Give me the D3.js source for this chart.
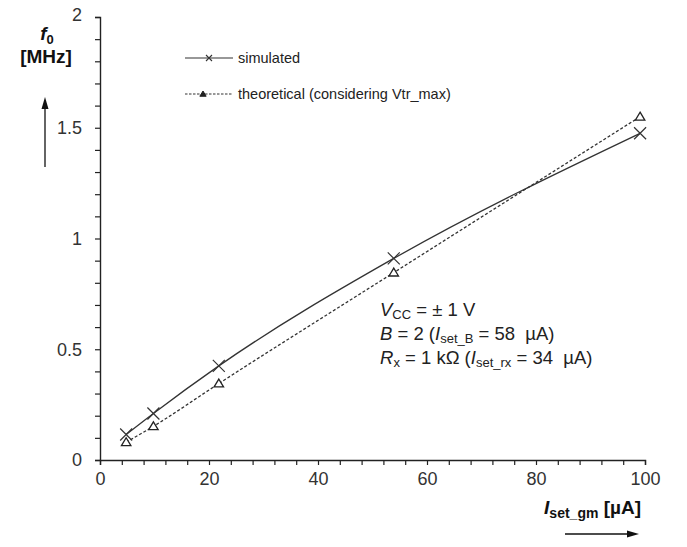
<!DOCTYPE html>
<html><head><meta charset="utf-8">
<script src="https://cdn.jsdelivr.net/npm/d3@7"></script>
<style>body{margin:0;background:#fff;} text{font-family:"Liberation Sans",Arial,sans-serif;}</style>
</head><body><svg id="c" width="687" height="547"></svg>
<script>
const iset = [4.8, 9.8, 21.8, 53.9, 99.1];
const simulated = [0.115, 0.21, 0.425, 0.91, 1.475];
const theoretical = [0.08, 0.152, 0.345, 0.846, 1.55];
const xTicks = [0, 20, 40, 60, 80, 100];
const yTicks = [0, 0.5, 1, 1.5, 2];

const svg = d3.select("#c");
const x = d3.scaleLinear().domain([0, 100]).range([100, 645]);
const y = d3.scaleLinear().domain([0, 2]).range([460, 17]);
const ink = "#222";

// axes
const xAxis = svg.append("g").attr("transform", "translate(0,460)")
  .call(d3.axisBottom(x).tickValues(d3.range(0, 101, 4)).tickSize(5).tickFormat(d => xTicks.includes(d) ? d : ""));
const yAxis = svg.append("g").attr("transform", "translate(100,0)")
  .call(d3.axisLeft(y).tickValues(d3.range(0, 2.001, 0.1).map(v => +v.toFixed(1))).tickSize(5).tickFormat(d => yTicks.includes(d) ? d : ""));
[xAxis, yAxis].forEach(g => {
  g.select(".domain").attr("stroke", ink).attr("stroke-width", 1.4);
  g.selectAll(".tick line").attr("stroke", ink).attr("stroke-width", 1.2);
  g.selectAll("text").attr("fill", "#333").style("font-size", "18px").style("font-family", "Liberation Sans, Arial, sans-serif");
});
xAxis.selectAll("text").attr("dy", "0.95em");
yAxis.selectAll("text").attr("x", -18);
yAxis.selectAll(".tick").filter(d => d === 2).select("text").attr("dy", "0.2em");

// lines
const sim = iset.map((v, i) => [v, simulated[i]]);
const th = iset.map((v, i) => [v, theoretical[i]]);
const line = d3.line().x(d => x(d[0])).y(d => y(d[1])).curve(d3.curveMonotoneX);
svg.append("path").attr("d", line(sim)).attr("fill", "none").attr("stroke", "#333").attr("stroke-width", 1.3);
svg.append("path").attr("d", line(th)).attr("fill", "none").attr("stroke", "#333").attr("stroke-width", 1.3).attr("stroke-dasharray", "3,2");

// markers
const xm = (s) => `M${-s},${-s}L${s},${s}M${-s},${s}L${s},${-s}`;
svg.selectAll(".sx").data(sim).join("path")
  .attr("transform", d => `translate(${x(d[0])},${y(d[1])})`)
  .attr("d", xm(6)).attr("stroke", "#333").attr("stroke-width", 1.2).attr("fill", "none");
const tri = (s) => `M0,${-s}L${s*1.05},${s*0.75}L${-s*1.05},${s*0.75}Z`;
svg.selectAll(".tt").data(th).join("path")
  .attr("transform", d => `translate(${x(d[0])},${y(d[1])})`)
  .attr("d", tri(4.5)).attr("stroke", "#222").attr("stroke-width", 1.3).attr("fill", "#fff");

// legend
const lg = svg.append("g");
lg.append("line").attr("x1", 185).attr("x2", 233).attr("y1", 58).attr("y2", 58).attr("stroke", "#333").attr("stroke-width", 1.2);
lg.append("path").attr("transform", "translate(209,58)").attr("d", xm(3)).attr("stroke", "#333").attr("stroke-width", 1.1);
lg.append("text").attr("x", 238).attr("y", 63).text("simulated").style("font-size", "14.5px").attr("fill", "#222");
lg.append("line").attr("x1", 185).attr("x2", 233).attr("y1", 94).attr("y2", 94).attr("stroke", "#333").attr("stroke-width", 1.2).attr("stroke-dasharray", "2.5,1.5");
lg.append("path").attr("transform", "translate(203,94)").attr("d", tri(3)).attr("stroke", "#222").attr("stroke-width", 1).attr("fill", "#222");
lg.append("text").attr("x", 238).attr("y", 99).text("theoretical (considering Vtr_max)").style("font-size", "14.5px").attr("fill", "#222");

// y label
const yl = svg.append("text").attr("x", 47).attr("y", 40).attr("text-anchor", "middle").attr("fill", "#111")
  .style("font-size", "19px").style("font-weight", "bold");
yl.append("tspan").text("f").style("font-style", "italic");
yl.append("tspan").text("0").attr("dy", 4).style("font-size", "13px");
svg.append("text").attr("x", 46).attr("y", 63).attr("text-anchor", "middle").attr("fill", "#111")
  .style("font-size", "19px").style("font-weight", "bold").text("[MHz]");
// y arrow
svg.append("line").attr("x1", 45).attr("x2", 45).attr("y1", 167).attr("y2", 106).attr("stroke", "#111").attr("stroke-width", 1.3);
svg.append("path").attr("d", "M45,97L41.5,109L48.5,109Z").attr("fill", "#111");

// x label
const xl = svg.append("text").attr("x", 641).attr("y", 514).attr("text-anchor", "end").attr("fill", "#111")
  .style("font-size", "19px").style("font-weight", "bold");
xl.append("tspan").text("I").style("font-style", "italic");
xl.append("tspan").text("set_gm").attr("dy", 4).style("font-size", "14px");
xl.append("tspan").text(" [µA]").attr("dy", -4);
// x arrow
svg.append("line").attr("x1", 565).attr("x2", 630).attr("y1", 534).attr("y2", 534).attr("stroke", "#111").attr("stroke-width", 1.3);
svg.append("path").attr("d", "M639,534L627,530.5L627,537.5Z").attr("fill", "#111");

// annotation
const ann = svg.append("g").style("font-size", "18.5px").attr("fill", "#222");
const a1 = ann.append("text").attr("x", 380).attr("y", 316);
a1.append("tspan").text("V").style("font-style", "italic");
a1.append("tspan").text("CC").attr("dy", 3).style("font-size", "13px");
a1.append("tspan").text(" = ± 1 V").attr("dy", -3);
const a2 = ann.append("text").attr("x", 380).attr("y", 340);
a2.append("tspan").text("B").style("font-style", "italic");
a2.append("tspan").text(" = 2 (");
a2.append("tspan").text("I").style("font-style", "italic");
a2.append("tspan").text("set_B").attr("dy", 3).style("font-size", "13px");
a2.append("tspan").text(" = 58\u00a0 µA)").attr("dy", -3);
const a3 = ann.append("text").attr("x", 380).attr("y", 364);
a3.append("tspan").text("R").style("font-style", "italic");
a3.append("tspan").text("x").attr("dy", 3).style("font-size", "13px");
a3.append("tspan").text(" = 1 kΩ (").attr("dy", -3);
a3.append("tspan").text("I").style("font-style", "italic");
a3.append("tspan").text("set_rx").attr("dy", 3).style("font-size", "13px");
a3.append("tspan").text(" = 34\u00a0 µA)").attr("dy", -3);
</script></body></html>
